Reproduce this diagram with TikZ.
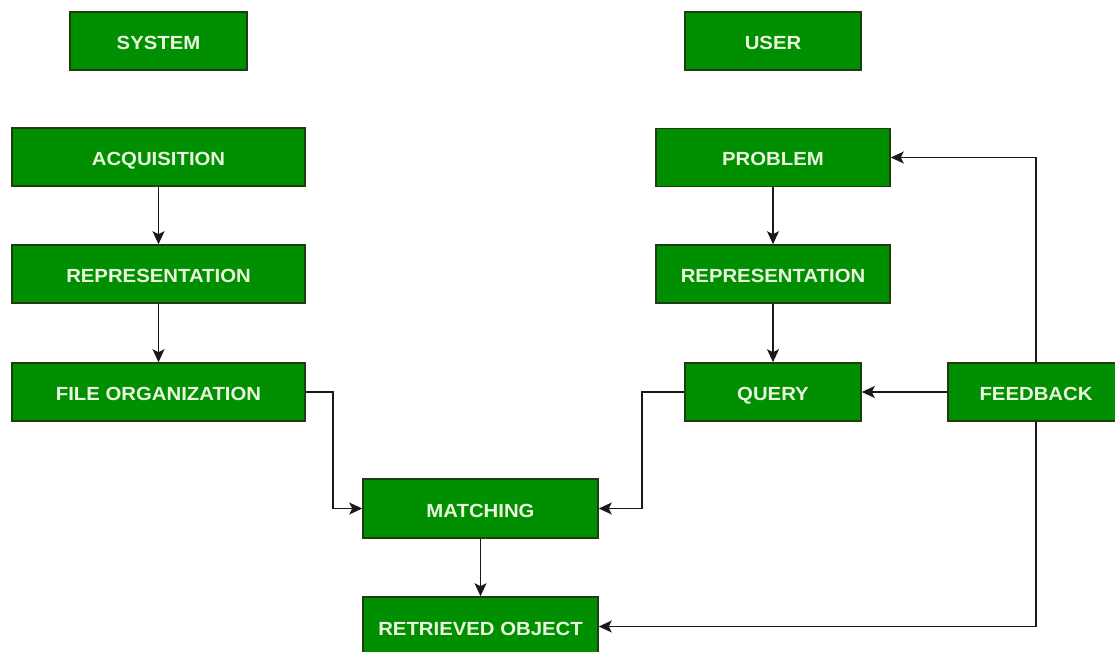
\documentclass[tikz,border=0pt]{standalone}
\usepackage{fontspec}
\setmainfont{Liberation Sans}[FakeStretch=1.07]
\usetikzlibrary{arrows.meta}
\definecolor{boxgreen}{HTML}{008F00}
\definecolor{boxedge}{HTML}{1F3D12}
\definecolor{boxtext}{HTML}{EAF5DE}
\begin{document}
\begin{tikzpicture}[x=1pt,y=-1pt,
  blk/.style={draw=boxedge, line width=1.6pt, fill=boxgreen, text=boxtext,
    font=\bfseries\fontsize{19}{19}\selectfont, inner sep=0pt,
    text height=17pt, text depth=0pt,
    minimum height=58pt, anchor=center},
  conn/.style={draw=black!90, line width=1.5pt, -{Stealth[length=13pt,width=12pt,inset=3pt]}}]
\useasboundingbox (0,0) rectangle (1115,652);
\fill[white] (0,0) rectangle (1115,652);
\clip (0,0) rectangle (1115,652);
% nodes
\node[blk, minimum width=177pt] (sys) at (158.5,41) {SYSTEM};
\node[blk, minimum width=176pt] (user) at (773,41) {USER};
\node[blk, minimum width=293pt] (acq) at (158.5,157) {ACQUISITION};
\node[blk, minimum width=234pt] (prob) at (773,157.5) {PROBLEM};
\node[blk, minimum width=293pt] (repl) at (158.5,274) {REPRESENTATION};
\node[blk, minimum width=234pt] (repr) at (773,274) {REPRESENTATION};
\node[blk, minimum width=293pt] (file) at (158.5,392) {FILE ORGANIZATION};
\node[blk, minimum width=176pt] (query) at (773,392) {QUERY};
\node[blk, minimum width=176pt] (feed) at (1036,392) {FEEDBACK};
\node[blk, minimum width=235pt, minimum height=59pt] (match) at (480.5,508.5) {MATCHING};
\node[blk, minimum width=235pt, minimum height=59pt] (ret) at (480.5,626.5) {RETRIEVED OBJECT};
% connectors
\draw[conn] (acq) -- (repl);
\draw[conn] (repl) -- (file);
\draw[conn] (prob) -- (repr);
\draw[conn] (repr) -- (query);
\draw[conn] (match) -- (ret);
\draw[conn] (file.east) -- (333,392) |- (match.west);
\draw[conn] (query.west) -- (642,392) |- (match.east);
\draw[conn] (feed.west) -- (query.east);
\draw[conn] (feed.north) |- (prob.east);
\draw[conn] (feed.south) |- (ret.east);
\end{tikzpicture}
\end{document}
